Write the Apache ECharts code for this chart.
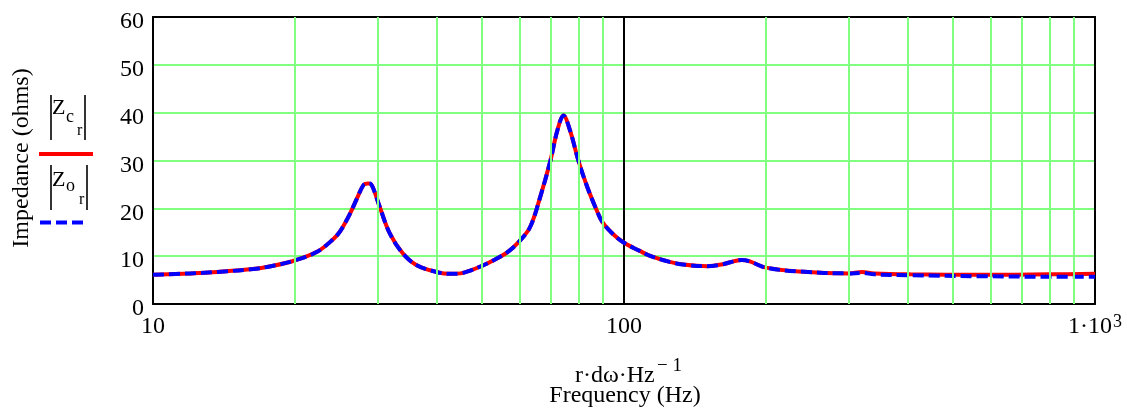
<!DOCTYPE html>
<html>
<head>
<meta charset="utf-8">
<script src="https://cdn.jsdelivr.net/npm/echarts@6/dist/echarts.min.js"></script>
<style>
html,body{margin:0;padding:0;background:#fff;}
#chart{width:1127px;height:418px;}
</style>
</head>
<body>
<div id="chart"></div>
<script>
// Frequency samples (Hz)
var freq = [10, 12, 13.7, 16.3, 18, 20, 22.3, 24.1, 25, 26.2, 27.2, 28, 28.6, 29, 29.5, 30.3, 31.8, 33.9, 36.3, 40, 42.7, 45, 46.6, 50, 53, 56.5, 59.8, 63.2, 66.4, 69.8, 72.2, 74.4, 76.8, 80, 83.6, 87.5, 90, 94.6, 100, 108, 114, 125, 135, 150, 162, 172, 178, 185, 200, 235, 300, 320, 340, 405, 576, 800, 1000];
// |Zc_r| (ohms) - red solid
var zc = [6.1, 6.4, 6.7, 7.3, 8.0, 9.1, 10.9, 13.5, 15.3, 18.9, 22.4, 24.9, 25.2, 25.1, 23.6, 20.3, 14.8, 10.6, 8.1, 6.7, 6.3, 6.4, 6.8, 8.0, 9.2, 10.8, 13.0, 16.1, 22.4, 30.0, 36.3, 39.4, 36.3, 30.0, 24.4, 19.6, 17.1, 14.7, 12.8, 11.1, 10.0, 8.8, 8.2, 7.9, 8.3, 9.0, 9.2, 8.9, 7.6, 6.8, 6.4, 6.7, 6.4, 6.2, 6.1, 6.2, 6.3];
// |Zo_r| (ohms) - blue dashed
var zo = [6.1, 6.4, 6.7, 7.3, 8.0, 9.1, 10.9, 13.5, 15.3, 18.9, 22.4, 24.9, 25.2, 25.1, 23.6, 20.3, 14.8, 10.6, 8.1, 6.7, 6.3, 6.4, 6.8, 8.0, 9.2, 10.8, 13.0, 16.1, 22.4, 30.0, 36.3, 39.4, 36.3, 30.0, 24.4, 19.6, 17.1, 14.7, 12.8, 11.1, 10.0, 8.8, 8.2, 7.9, 8.3, 9.0, 9.2, 8.9, 7.6, 6.8, 6.4, 6.5, 6.2, 6.0, 5.8, 5.7, 5.7];
// Minor (green) frequency grid lines
var minorGrid = [20, 30, 40, 50, 60, 70, 80, 90, 200, 300, 400, 500, 600, 700, 800, 900];
var yTicks = [0, 10, 20, 30, 40, 50, 60];

var FONT = '"Liberation Serif", "Times New Roman", serif';
var GREEN = '#80ff80';
var chart = echarts.init(document.getElementById('chart'), null, {renderer: 'canvas'});

function pairs(xs, ys) { return xs.map(function (x, i) { return [x, ys[i]]; }); }

var option = {
  animation: false,
  backgroundColor: '#ffffff',
  grid: {left: 153, right: 32, top: 16, bottom: 114, show: false},
  xAxis: [{
    type: 'log', logBase: 10, min: 10, max: 1000,
    axisLine: {show: true, onZero: false, lineStyle: {color: '#000', width: 2}},
    axisTick: {show: false},
    splitLine: {show: true, lineStyle: {color: '#000', width: 2}},
    axisLabel: {
      fontFamily: FONT, fontSize: 24, color: '#000', margin: 9,
      formatter: function (v) {
        if (Math.abs(v - 1000) < 1e-6) return '{n|1·10}{s|3}';
        return '{n|' + Math.round(v) + '}';
      },
      rich: {
        n: {fontFamily: FONT, fontSize: 24, color: '#000', verticalAlign: 'bottom', lineHeight: 26},
        s: {fontFamily: FONT, fontSize: 18, color: '#000', verticalAlign: 'top', lineHeight: 26, padding: [0, 0, 18, 1]}
      }
    }
  }, {
    type: 'log', logBase: 10, min: 10, max: 1000, position: 'top',
    axisLine: {show: true, onZero: false, lineStyle: {color: '#000', width: 2}},
    axisTick: {show: false}, axisLabel: {show: false}, splitLine: {show: false}
  }],
  yAxis: [{
    type: 'value', min: 0, max: 60, interval: 10,
    axisLine: {show: true, onZero: false, lineStyle: {color: '#000', width: 2}},
    axisTick: {show: false},
    splitLine: {show: true, lineStyle: {color: GREEN, width: 2}},
    axisLabel: {fontFamily: FONT, fontSize: 24, color: '#000', margin: 9,
      formatter: function (v) { return yTicks.indexOf(v) >= 0 ? '{n|' + v + '}' : ''; },
      rich: {n: {fontFamily: FONT, fontSize: 24, color: '#000', lineHeight: 24, padding: [10, 0, 0, 0]}}
    }
  }, {
    type: 'value', min: 0, max: 60, interval: 10, position: 'right',
    axisLine: {show: true, onZero: false, lineStyle: {color: '#000', width: 2}},
    axisTick: {show: false}, axisLabel: {show: false}, splitLine: {show: false}
  }],
  series: [{
    name: 'grid', type: 'line', data: [], silent: true,
    markLine: {
      silent: true, symbol: ['none', 'none'], label: {show: false},
      lineStyle: {color: GREEN, width: 2, type: 'solid'},
      animation: false,
      data: minorGrid.map(function (f) { return {xAxis: f}; })
    },
    z: 1
  }, {
    name: 'Zc', type: 'line', data: pairs(freq, zc), showSymbol: false,
    smooth: 0.35, clip: true,
    lineStyle: {color: '#ff0000', width: 4}, z: 3
  }, {
    name: 'Zo', type: 'line', data: pairs(freq, zo), showSymbol: false,
    smooth: 0.35, clip: true,
    lineStyle: {color: '#0000ff', width: 4, type: [11, 5]}, z: 4
  }],
  graphic: [
    // y axis title
    {type: 'text', x: 22, y: 158, rotation: Math.PI / 2,
      style: {text: 'Impedance (ohms)', font: '24px ' + FONT, fill: '#000', textAlign: 'center', textVerticalAlign: 'middle'}},
    // legend 1: |Zc_r|
    {type: 'line', shape: {x1: 51, y1: 95, x2: 51, y2: 140}, style: {stroke: '#000', lineWidth: 1.6}},
    {type: 'line', shape: {x1: 85, y1: 95, x2: 85, y2: 140}, style: {stroke: '#000', lineWidth: 1.6}},
    {type: 'text', x: 52, y: 108, style: {text: 'Z', font: '22px ' + FONT, fill: '#000', textVerticalAlign: 'middle'}},
    {type: 'text', x: 66, y: 117, style: {text: 'c', font: '18px ' + FONT, fill: '#000', textVerticalAlign: 'middle'}},
    {type: 'text', x: 77, y: 131, style: {text: 'r', font: '16px ' + FONT, fill: '#000', textVerticalAlign: 'middle'}},
    {type: 'line', shape: {x1: 39, y1: 154, x2: 93, y2: 154}, style: {stroke: '#ff0000', lineWidth: 4}},
    // legend 2: |Zo_r|
    {type: 'line', shape: {x1: 51, y1: 165, x2: 51, y2: 210}, style: {stroke: '#000', lineWidth: 1.6}},
    {type: 'line', shape: {x1: 87, y1: 165, x2: 87, y2: 210}, style: {stroke: '#000', lineWidth: 1.6}},
    {type: 'text', x: 52, y: 180, style: {text: 'Z', font: '22px ' + FONT, fill: '#000', textVerticalAlign: 'middle'}},
    {type: 'text', x: 66, y: 186, style: {text: 'o', font: '18px ' + FONT, fill: '#000', textVerticalAlign: 'middle'}},
    {type: 'text', x: 79, y: 200, style: {text: 'r', font: '16px ' + FONT, fill: '#000', textVerticalAlign: 'middle'}},
    {type: 'line', shape: {x1: 40, y1: 222.5, x2: 84, y2: 222.5}, style: {stroke: '#0000ff', lineWidth: 4, lineDash: [11, 5]}},
    // x axis title
    {type: 'text', x: 575, y: 376, style: {text: 'r·dω·Hz', font: '24px ' + FONT, fill: '#000', textVerticalAlign: 'middle'}},
    {type: 'text', x: 657, y: 366, style: {text: '− 1', font: '19px ' + FONT, fill: '#000', textVerticalAlign: 'middle'}},
    {type: 'text', x: 625, y: 396, style: {text: 'Frequency (Hz)', font: '24px ' + FONT, fill: '#000', textAlign: 'center', textVerticalAlign: 'middle'}}
  ]
};
chart.setOption(option);
</script>
</body>
</html>
